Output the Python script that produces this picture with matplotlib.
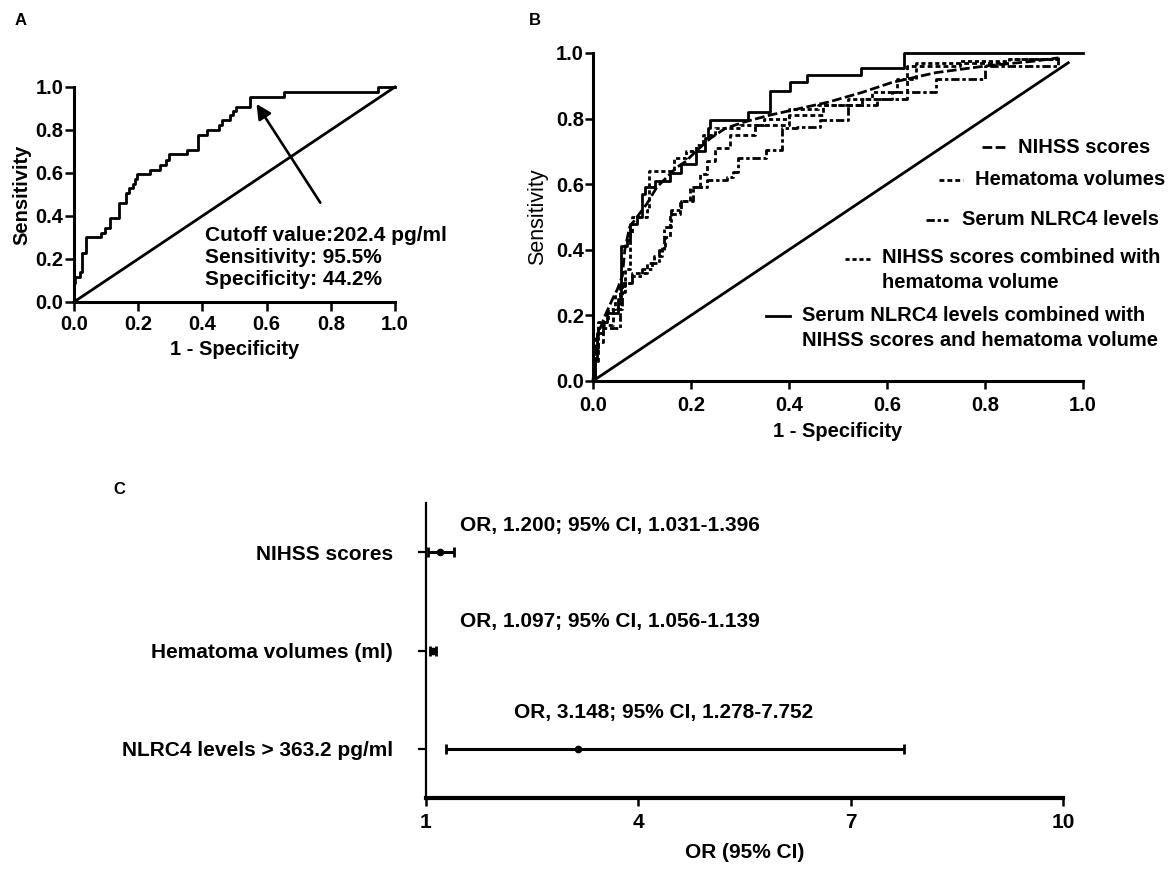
import numpy as np
import matplotlib
matplotlib.use('Agg')
from matplotlib import pyplot as plt

plt.rcParams['font.family'] = ['Liberation Sans', 'DejaVu Sans']
plt.rcParams['font.weight'] = 'bold'
plt.rcParams['lines.scale_dashes'] = False

# Panel A - ROC of serum NLRC4
a_fpr = [0, 0.003, 0.02, 0.024, 0.037, 0.084, 0.097, 0.112, 0.141, 0.162, 0.172, 0.183, 0.19,
         0.197, 0.237, 0.268, 0.287, 0.297, 0.351, 0.385, 0.413, 0.452, 0.46, 0.486, 0.496,
         0.506, 0.548, 0.654, 0.946, 1.0]
a_tpr = [0.087, 0.118, 0.14, 0.226, 0.30, 0.32, 0.343, 0.39, 0.46, 0.505, 0.53, 0.55, 0.57,
         0.595, 0.614, 0.637, 0.66, 0.687, 0.707, 0.777, 0.80, 0.823, 0.846, 0.87, 0.888,
         0.908, 0.955, 0.975, 1.0, 1.0]
cutoff_point = (0.564, 0.932)
cutoff_text = 'Cutoff value:202.4 pg/ml\nSensitivity: 95.5%\nSpecificity: 44.2%'

# Panel B - ROC curves
nihss_fpr = [0, 0.005, 0.012, 0.025, 0.04, 0.05, 0.06, 0.065, 0.075, 0.09, 0.11, 0.13, 0.15, 0.17,
             0.19, 0.21, 0.24, 0.27, 0.31, 0.36, 0.42, 0.48, 0.55, 0.61, 0.70, 0.80, 0.90, 0.95]
nihss_tpr = [0.0, 0.08, 0.15, 0.2, 0.25, 0.28, 0.32, 0.4, 0.47, 0.5, 0.54, 0.59, 0.62, 0.65,
             0.67, 0.70, 0.74, 0.77, 0.79, 0.81, 0.83, 0.85, 0.88, 0.91, 0.94, 0.96, 0.975, 0.985]

hema_fpr = [0, 0.005, 0.01, 0.02, 0.04, 0.055, 0.065, 0.08, 0.11, 0.125, 0.14, 0.147, 0.157, 0.178,
            0.198, 0.218, 0.232, 0.25, 0.28, 0.33, 0.40, 0.47, 0.55, 0.61, 0.64, 0.75, 0.85, 0.95]
hema_tpr = [0.0, 0.06, 0.12, 0.17, 0.22, 0.27, 0.30, 0.33, 0.36, 0.38, 0.41, 0.44, 0.51, 0.55,
            0.59, 0.63, 0.67, 0.71, 0.75, 0.78, 0.81, 0.84, 0.86, 0.88, 0.96, 0.97, 0.98, 0.99]

nlrc4_fpr = [0, 0.005, 0.01, 0.03, 0.055, 0.06, 0.08, 0.10, 0.12, 0.135, 0.145, 0.16, 0.18, 0.205,
             0.232, 0.273, 0.286, 0.297, 0.354, 0.385, 0.416, 0.463, 0.52, 0.58, 0.64, 0.70, 0.80, 0.95]
nlrc4_tpr = [0.0, 0.1, 0.16, 0.16, 0.22, 0.30, 0.32, 0.34, 0.36, 0.40, 0.47, 0.52, 0.55, 0.59,
             0.613, 0.623, 0.638, 0.679, 0.704, 0.77, 0.775, 0.796, 0.84, 0.86, 0.88, 0.92, 0.96, 0.98]

comb2_fpr = [0, 0.005, 0.01, 0.03, 0.045, 0.055, 0.065, 0.075, 0.08, 0.11, 0.115, 0.15, 0.165, 0.19,
             0.21, 0.225, 0.25, 0.30, 0.35, 0.40, 0.46, 0.52, 0.57, 0.62, 0.66, 0.75, 0.85, 0.95]
comb2_tpr = [0.0, 0.14, 0.18, 0.22, 0.26, 0.29, 0.34, 0.45, 0.50, 0.52, 0.64, 0.64, 0.68, 0.70,
             0.72, 0.75, 0.77, 0.78, 0.80, 0.83, 0.84, 0.86, 0.88, 0.92, 0.97, 0.975, 0.98, 0.99]

comb3_fpr = [0, 0.009, 0.02, 0.028, 0.052, 0.058, 0.069, 0.076, 0.089, 0.100, 0.106, 0.127, 0.157,
             0.180, 0.210, 0.229, 0.235, 0.239, 0.317, 0.361, 0.402, 0.436, 0.548, 0.634, 1.0]
comb3_tpr = [0.07, 0.145, 0.18, 0.206, 0.25, 0.41, 0.43, 0.48, 0.50, 0.57, 0.59, 0.61, 0.635,
             0.66, 0.70, 0.74, 0.77, 0.796, 0.82, 0.885, 0.91, 0.933, 0.953, 1.0, 1.0]

b_labels = ['NIHSS scores', 'Hematoma volumes', 'Serum NLRC4 levels',
            'NIHSS scores combined with\nhematoma volume',
            'Serum NLRC4 levels combined with\nNIHSS scores and hematoma volume']

# Panel C - odds ratios
c_labels = ['NIHSS scores', 'Hematoma volumes (ml)', 'NLRC4 levels > 363.2 pg/ml']
c_or = [1.200, 1.097, 3.148]
c_lo = [1.031, 1.056, 1.278]
c_hi = [1.396, 1.139, 7.752]
c_text = ['OR, 1.200; 95% CI, 1.031-1.396',
          'OR, 1.097; 95% CI, 1.056-1.139',
          'OR, 3.148; 95% CI, 1.278-7.752']

fig = plt.figure(figsize=(11.7, 8.75), dpi=100)


def style_axes(ax, lw=2.2, fs=14.5):
    for s in ['top', 'right']:
        ax.spines[s].set_visible(False)
    for s in ['left', 'bottom']:
        ax.spines[s].set_linewidth(lw)
    ax.tick_params(direction='out', length=6.5, width=1.8, labelsize=fs)
    for lab in ax.get_xticklabels() + ax.get_yticklabels():
        lab.set_fontweight('bold')


ticks = [0.0, 0.2, 0.4, 0.6, 0.8, 1.0]
tick_lbls = ['%.1f' % t for t in ticks]

# ---- A ----
ax_a = fig.add_axes([0.0632, 0.6549, 0.2744, 0.2457])
ax_a.plot(a_fpr, a_tpr, drawstyle='steps-post', color='black', lw=2.0, clip_on=False)
ax_a.plot([0, 1], [0, 1], color='black', lw=2.0, clip_on=False)
ax_a.set_xlim(0, 1)
ax_a.set_ylim(0, 1)
ax_a.set_xticks(ticks)
ax_a.set_xticklabels(tick_lbls)
ax_a.set_yticks(ticks)
ax_a.set_yticklabels(tick_lbls)
style_axes(ax_a)
ax_a.tick_params(axis='y', pad=1)
ax_a.tick_params(axis='x', pad=3)
ax_a.set_xlabel('1 - Specificity', fontsize=14.5, fontweight='bold', labelpad=4)
ax_a.set_ylabel('Sensitivity', fontsize=14.5, fontweight='bold', labelpad=3)
ax_a.annotate('', xy=cutoff_point, xytext=(0.772, 0.451),
              arrowprops=dict(arrowstyle='-|>', color='black', lw=1.9, mutation_scale=22))
ax_a.text(0.408, 0.206, cutoff_text, fontsize=15, fontweight='bold', va='center',
          ha='left', linespacing=1.18)
fig.text(0.0128, 0.977, 'A', fontsize=12, fontweight='bold', va='center')

# ---- B ----
ax_b = fig.add_axes([0.5068, 0.5646, 0.4188, 0.3749])
b_styles = [dict(dashes=(7, 2.5)), dict(dashes=(3.5, 2.2)), dict(dashes=(6, 2, 2.5, 2)),
            dict(dashes=(3, 2)), dict(linestyle='-')]
b_data = [(nihss_fpr, nihss_tpr, None), (hema_fpr, hema_tpr, 'steps-post'),
          (nlrc4_fpr, nlrc4_tpr, 'steps-post'), (comb2_fpr, comb2_tpr, 'steps-post'),
          (comb3_fpr, comb3_tpr, 'steps-post')]
for (xs, ys, ds), st in zip(b_data, b_styles):
    kw = dict(color='black', lw=2.0, clip_on=False)
    kw.update(st)
    if ds:
        kw['drawstyle'] = ds
    ax_b.plot(xs, ys, **kw)
ax_b.plot([0, 0.97], [0, 0.97], color='black', lw=2.0)
ax_b.set_xlim(0, 1)
ax_b.set_ylim(0, 1)
ax_b.set_xticks(ticks)
ax_b.set_xticklabels(tick_lbls)
ax_b.set_yticks(ticks)
ax_b.set_yticklabels(tick_lbls)
style_axes(ax_b)
ax_b.tick_params(axis='y', pad=1, length=5.5)
ax_b.tick_params(axis='x', pad=5, length=5.5)
ax_b.set_xlabel('1 - Specificity', fontsize=14.5, fontweight='bold', labelpad=5)
ax_b.set_ylabel('Sensitivity', fontsize=15.5, fontweight='normal', labelpad=6)

# legend entries placed like the original
leg_pos = [(0.794, 0.841, 0.867, 0.713, 0.713),
           (0.706, 0.755, 0.780, 0.613, 0.613),
           (0.680, 0.724, 0.753, 0.491, 0.491),
           (0.514, 0.565, 0.590, 0.372, 0.337),
           (0.353, 0.402, 0.427, 0.198, 0.162)]
for (hx0, hx1, tx, hy, ty), st, lab in zip(leg_pos, b_styles, b_labels):
    kw = dict(color='black', lw=2.0, clip_on=False, transform=ax_b.transAxes)
    kw.update(st)
    ax_b.plot([hx0, hx1], [hy, hy], **kw)
    ax_b.text(tx, ty, lab, transform=ax_b.transAxes, fontsize=14.5, fontweight='bold',
              va='center', ha='left', linespacing=1.4)
fig.text(0.452, 0.977, 'B', fontsize=12, fontweight='bold', va='center')

# ---- C ----
ax_c = fig.add_axes([0.3641, 0.0880, 0.5444, 0.3371])
rows = [3, 2, 1]
xerr = [np.array(c_or) - np.array(c_lo), np.array(c_hi) - np.array(c_or)]
ax_c.errorbar(c_or, rows, xerr=xerr, fmt='o', ms=4.5, color='black', ecolor='black',
              elinewidth=2.2, capsize=3.3, capthick=2.0, clip_on=False)
text_pos = [(1.48, 3.27), (1.48, 2.30), (2.24, 1.37)]
for (tx, ty), t in zip(text_pos, c_text):
    ax_c.text(tx, ty, t, fontsize=15, fontweight='bold', va='center', ha='left')
ax_c.set_xlim(1, 10)
ax_c.set_ylim(0.5, 3.5)
ax_c.set_xticks([1, 4, 7, 10])
ax_c.set_yticks(rows)
ax_c.set_yticklabels(c_labels)
style_axes(ax_c, fs=15)
ax_c.spines['bottom'].set_linewidth(3.0)
ax_c.spines['left'].set_linewidth(1.6)
ax_c.tick_params(axis='y', length=6, width=1.6, pad=18)
ax_c.tick_params(axis='x', length=6, width=1.8, pad=5)
ax_c.set_xlabel('OR (95% CI)', fontsize=15, fontweight='bold', labelpad=8)
fig.text(0.0966, 0.44, 'C', fontsize=12, fontweight='bold', va='center')

fig.savefig('out.png', dpi=100)
